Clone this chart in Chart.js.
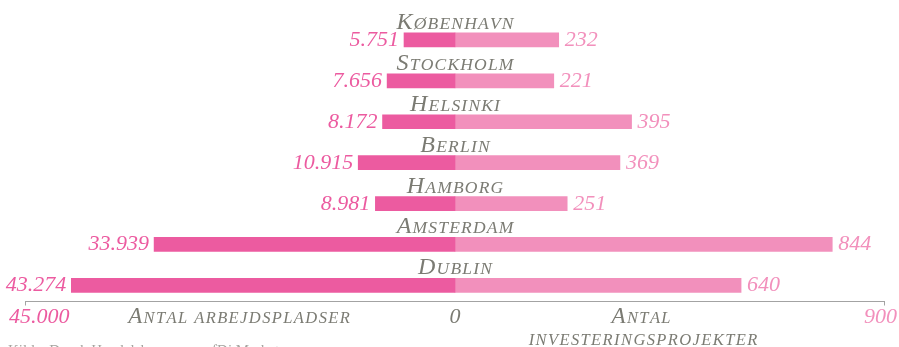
<!DOCTYPE html>
<html>
<head>
<meta charset="utf-8">
<script src="https://cdn.jsdelivr.net/npm/chart.js@4"></script>
<style>
  body { margin: 0; background: #fff; }
  canvas { display: block; }
</style>
</head>
<body>
<canvas id="myCanvas" width="899" height="347"></canvas>
<script>
var cities = ["København", "Stockholm", "Helsinki", "Berlin", "Hamborg", "Amsterdam", "Dublin"];
var jobs = [5751, 7656, 8172, 10915, 8981, 33939, 43274];
var projects = [232, 221, 395, 369, 251, 844, 640];
var jobLabels = ["5.751", "7.656", "8.172", "10.915", "8.981", "33.939", "43.274"];
var projectLabels = ["232", "221", "395", "369", "251", "844", "640"];
var tickLabels = ["45.000", "0", "900"];
var jobsTitle = "Antal arbejdspladser";
var projectsTitle = ["Antal", "investeringsprojekter"];
var sourceNote = "Kilde: Dansk Handelskammer og fDi Markets";

var darkPink = "#ec5ba0";
var lightPink = "#f290bc";
var grey = "#7b7b73";
var serif = '"Liberation Serif", "DejaVu Serif", serif';

function italic(size) {
  return "italic " + size + "px " + serif;
}

// small caps by hand: capitals at full size, lower case as smaller capitals
function capsRuns(text, big, small) {
  var runs = [];
  for (var i = 0; i < text.length; i++) {
    var ch = text[i];
    var upper = ch !== ch.toLowerCase();
    runs.push({ ch: ch.toUpperCase(), size: upper ? big : small });
  }
  return runs;
}

function drawCaps(ctx, text, x, y, big, small, spacing, align) {
  var runs = capsRuns(text, big, small);
  var total = 0;
  runs.forEach(function (r) {
    ctx.font = italic(r.size);
    r.w = ctx.measureText(r.ch).width + spacing;
    total += r.w;
  });
  total -= spacing;
  var px = align === "center" ? x - total / 2 : align === "right" ? x - total : x;
  ctx.textAlign = "left";
  runs.forEach(function (r) {
    ctx.font = italic(r.size);
    ctx.fillText(r.ch, px, y);
    px += r.w;
  });
}

// labels, axis line and titles drawn on top of the bars
var labelPlugin = {
  id: "labels",
  afterDraw: function (chart) {
    var ctx = chart.ctx;
    var area = chart.chartArea;
    var left = chart.getDatasetMeta(0).data;
    var right = chart.getDatasetMeta(1).data;
    var cx = chart.scales.xJobs.getPixelForValue(0);

    ctx.save();
    ctx.textBaseline = "alphabetic";
    for (var i = 0; i < cities.length; i++) {
      var y = left[i].y;

      ctx.fillStyle = grey;
      drawCaps(ctx, cities[i], cx, y - 11, 24, 17.5, 1.2, "center");

      ctx.font = italic(22);
      ctx.fillStyle = darkPink;
      ctx.textAlign = "right";
      ctx.fillText(jobLabels[i], left[i].x - 5, y + 6);

      ctx.fillStyle = lightPink;
      ctx.textAlign = "left";
      ctx.fillText(projectLabels[i], right[i].x + 6, y + 6);
    }

    // bottom axis
    var axisY = 301.5;
    ctx.strokeStyle = "#a3a3a3";
    ctx.lineWidth = 1;
    ctx.beginPath();
    ctx.moveTo(area.left, axisY);
    ctx.lineTo(area.right, axisY);
    ctx.moveTo(area.left + 0.5, axisY);
    ctx.lineTo(area.left + 0.5, axisY + 4);
    ctx.moveTo(area.right - 0.5, axisY);
    ctx.lineTo(area.right - 0.5, axisY + 4);
    ctx.stroke();

    ctx.font = italic(22);
    ctx.textAlign = "left";
    ctx.fillStyle = darkPink;
    ctx.fillText(tickLabels[0], 9, 323);
    ctx.textAlign = "center";
    ctx.fillStyle = grey;
    ctx.fillText(tickLabels[1], cx, 323);
    ctx.textAlign = "right";
    ctx.fillStyle = lightPink;
    ctx.fillText(tickLabels[2], 897, 323);

    ctx.fillStyle = grey;
    drawCaps(ctx, jobsTitle, 239, 323, 23, 16.5, 1.4, "center");
    drawCaps(ctx, projectsTitle[0], 641, 323, 23, 16.5, 1.4, "center");
    drawCaps(ctx, projectsTitle[1], 643, 345, 23, 16.5, 1.4, "center");

    ctx.font = "15px " + serif;
    ctx.fillStyle = "#a5a5a0";
    ctx.textAlign = "left";
    ctx.fillText(sourceNote, 8, 355);
    ctx.restore();
  }
};

var myCanvas = document.getElementById("myCanvas");
var chart = new Chart(myCanvas, {
  type: "bar",
  data: {
    labels: cities,
    datasets: [
      {
        label: jobsTitle,
        data: jobs,
        xAxisID: "xJobs",
        backgroundColor: darkPink,
        barThickness: 14,
        grouped: false
      },
      {
        label: projectsTitle.join(" "),
        data: projects,
        xAxisID: "xProj",
        backgroundColor: lightPink,
        barThickness: 14,
        grouped: false
      }
    ]
  },
  options: {
    indexAxis: "y",
    responsive: false,
    animation: false,
    layout: { padding: { left: 25, right: 14, top: 19.5, bottom: 41.2 } },
    plugins: {
      legend: { display: false },
      tooltip: { enabled: false }
    },
    scales: {
      y: { display: false, offset: true },
      // both sides share the centre line; jobs grow to the left
      xJobs: { display: false, reverse: true, min: -48500, max: 48500 },
      xProj: { display: false, min: -962, max: 962 }
    }
  },
  plugins: [labelPlugin]
});
</script>
</body>
</html>
